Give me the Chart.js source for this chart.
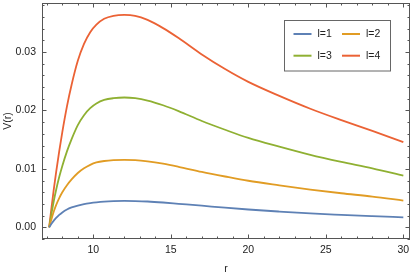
<!DOCTYPE html>
<html>
<head>
<meta charset="utf-8">
<script src="https://cdn.jsdelivr.net/npm/chart.js@4"></script>
<style>
  html, body { margin: 0; padding: 0; background: #fff; }
  #chart { display: block; }
</style>
</head>
<body>
<canvas id="chart" width="415" height="277"></canvas>
<script>
// r grid
const rValues = [7.15, 7.3, 7.45, 7.6, 7.8, 8.0, 8.3, 8.6, 9.0, 9.4, 9.8, 10.2, 10.7, 11.3, 12, 12.7, 13.5, 14.5, 15.5, 17, 18.5, 20, 22, 24, 26, 28, 30];

// V(r) for each l
const vL1 = [0, 0.0006, 0.00115, 0.0016, 0.00212, 0.00255, 0.00305, 0.0034, 0.00373, 0.00398, 0.00415, 0.00428, 0.0044, 0.00448, 0.00451, 0.00449, 0.00442, 0.00425, 0.00403, 0.0037, 0.00336, 0.00305, 0.0027, 0.00238, 0.00214, 0.00192, 0.00171];
const vL2 = [0, 0.0014, 0.0027, 0.0038, 0.0050, 0.0060, 0.0072, 0.0082, 0.0093, 0.0101, 0.0107, 0.0111, 0.01135, 0.0115, 0.01155, 0.01151, 0.0113, 0.01089, 0.01036, 0.00948, 0.0087, 0.00797, 0.00719, 0.00646, 0.00583, 0.00526, 0.00458];
const vL3 = [0, 0.0023, 0.0045, 0.0064, 0.0086, 0.0105, 0.0130, 0.0151, 0.0175, 0.0192, 0.0204, 0.0212, 0.0218, 0.0221, 0.02222, 0.0221, 0.0217, 0.0209, 0.0199, 0.0182, 0.0167, 0.0153, 0.0138, 0.0124, 0.0112, 0.0101, 0.00884];
const vL4 = [0, 0.0033, 0.0065, 0.0094, 0.0130, 0.0163, 0.0207, 0.0244, 0.0285, 0.0314, 0.0334, 0.0347, 0.0357, 0.0362, 0.03636, 0.0362, 0.0355, 0.0341, 0.0324, 0.0296, 0.0271, 0.0249, 0.0225, 0.0203, 0.01835, 0.0165, 0.0146];

const seriesLabels = ["l=1", "l=2", "l=3", "l=4"];
const seriesColors = ["#5E81B5", "#E19C24", "#8FB032", "#EB6235"];

const xTickValues = [10, 15, 20, 25, 30];
const yTickValues = [0, 0.01, 0.02, 0.03];

const FONT = "'Liberation Sans', Arial, sans-serif";
const frameColor = "#555555";

function toPoints(ys) {
  return ys.map((y, i) => ({ x: rValues[i], y: y }));
}

// frame with inward ticks on all four sides (Mathematica style)
const framePlugin = {
  id: "frame",
  afterDatasetsDraw(chart) {
    const { ctx, chartArea: a, scales } = chart;
    const xs = scales.x, ys = scales.y;
    ctx.save();
    ctx.strokeStyle = frameColor;
    ctx.lineWidth = 1;
    ctx.strokeRect(a.left + 0.5, a.top + 0.5, a.right - a.left - 1, a.bottom - a.top - 1);

    ctx.beginPath();
    for (let v = 7; v <= 30; v++) {
      const px = Math.round(xs.getPixelForValue(v)) + 0.5;
      const len = v % 5 === 0 ? 4.5 : 2.5;
      ctx.moveTo(px, a.bottom); ctx.lineTo(px, a.bottom - len);
      ctx.moveTo(px, a.top); ctx.lineTo(px, a.top + len);
    }
    for (let k = -1; k <= 19; k++) {
      const v = k * 0.002;
      const py = Math.round(ys.getPixelForValue(v)) + 0.5;
      const len = k % 5 === 0 ? 4.5 : 2.5;
      ctx.moveTo(a.left, py); ctx.lineTo(a.left + len, py);
      ctx.moveTo(a.right, py); ctx.lineTo(a.right - len, py);
    }
    ctx.stroke();
    ctx.restore();
  }
};

// boxed 2x2 legend inside the plot
const legendPlugin = {
  id: "boxLegend",
  afterDraw(chart) {
    const { ctx } = chart;
    const box = { x: 284, y: 20, w: 106, h: 50.5 };
    ctx.save();
    ctx.fillStyle = "#ffffff";
    ctx.fillRect(box.x, box.y, box.w, box.h);
    ctx.strokeStyle = "#666666";
    ctx.lineWidth = 1;
    ctx.strokeRect(box.x + 0.5, box.y + 0.5, box.w, box.h);
    ctx.font = "10.5px " + FONT;
    ctx.textBaseline = "middle";
    ctx.fillStyle = "#222222";
    chart.data.datasets.forEach((ds, i) => {
      const col = i % 2, row = Math.floor(i / 2);
      const lx = box.x + 9.5 + col * 48.5;
      const ly = box.y + 14 + row * 21.7;
      ctx.strokeStyle = ds.borderColor;
      ctx.lineWidth = 2;
      ctx.beginPath();
      ctx.moveTo(lx, ly); ctx.lineTo(lx + 18, ly);
      ctx.stroke();
      ctx.fillText(ds.label, lx + 24, ly + 0.5);
    });
    ctx.restore();
  }
};

function noEdgePadding(s) {
  s.paddingTop = 0; s.paddingBottom = 0;
  s.paddingLeft = 0; s.paddingRight = 0;
}

new Chart(document.getElementById("chart"), {
  type: "line",
  data: {
    datasets: [vL1, vL2, vL3, vL4].map((ys, i) => ({
      label: seriesLabels[i],
      data: toPoints(ys),
      borderColor: seriesColors[i],
      backgroundColor: seriesColors[i],
      borderWidth: 1.8,
      pointRadius: 0,
      cubicInterpolationMode: "monotone",
      fill: false
    }))
  },
  options: {
    responsive: false,
    devicePixelRatio: 1,
    animation: false,
    layout: { padding: { top: 3, right: 5, left: 0, bottom: 0 } },
    plugins: {
      legend: { display: false },
      tooltip: { enabled: false }
    },
    scales: {
      x: {
        type: "linear",
        min: 6.69,
        max: 30.43,
        afterBuildTicks: s => { s.ticks = xTickValues.map(v => ({ value: v })); },
        afterFit: s => { s.height = 38; noEdgePadding(s); },
        grid: { display: false, drawTicks: false },
        border: { display: false },
        ticks: {
          font: { family: FONT, size: 10.5 },
          color: "#222222",
          padding: 5,
          maxRotation: 0,
          callback: v => String(v)
        },
        title: {
          display: true,
          text: "r",
          font: { family: FONT, size: 10.5 },
          color: "#222222",
          padding: { top: 0, bottom: 2 }
        }
      },
      y: {
        type: "linear",
        min: -0.002,
        max: 0.0384,
        afterBuildTicks: s => { s.ticks = yTickValues.map(v => ({ value: v })); },
        afterFit: s => { s.width = 42; noEdgePadding(s); },
        grid: { display: false, drawTicks: false },
        border: { display: false },
        ticks: {
          font: { family: FONT, size: 10.5 },
          color: "#222222",
          padding: 6,
          callback: v => v.toFixed(2)
        },
        title: {
          display: true,
          text: "V(r)",
          font: { family: FONT, size: 10.5 },
          color: "#222222",
          padding: { top: 2, bottom: 0 }
        }
      }
    }
  },
  plugins: [framePlugin, legendPlugin]
});
</script>
</body>
</html>
